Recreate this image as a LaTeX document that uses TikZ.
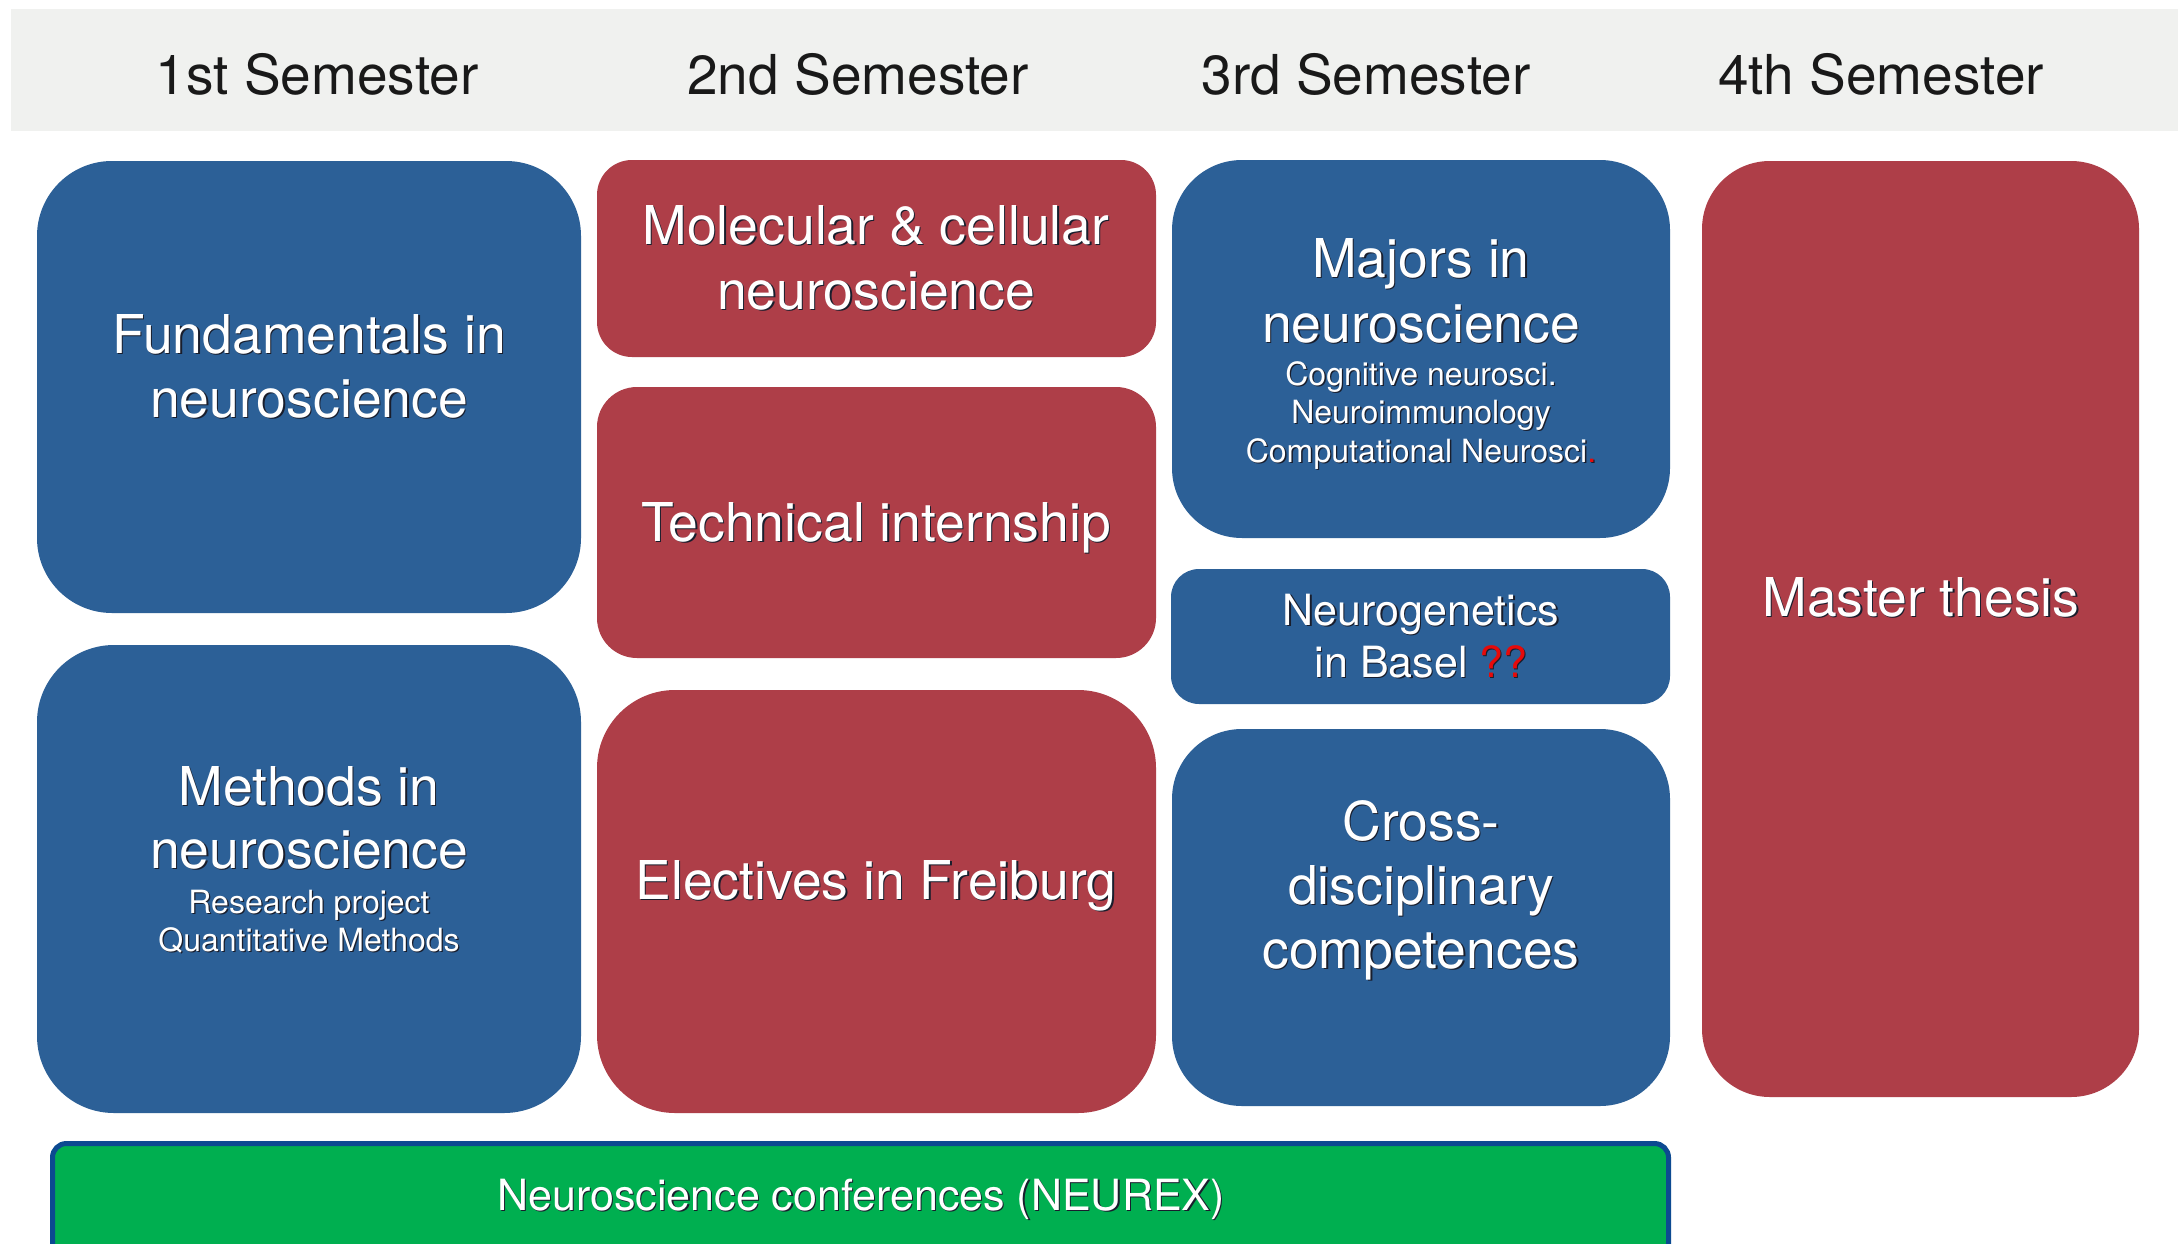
\documentclass[tikz,border=0pt]{standalone}
\usepackage{fontspec}
\setmainfont{TeX Gyre Heros}
\definecolor{bxblue}{RGB}{44,96,151}
\definecolor{bxred}{RGB}{174,62,72}
\definecolor{bxgreen}{RGB}{0,175,80}
\definecolor{bdblue}{RGB}{12,74,145}
\definecolor{hdrgray}{RGB}{240,241,239}
\definecolor{shcol}{RGB}{25,30,45}
\definecolor{qred}{RGB}{230,10,10}
\definecolor{hdrtext}{RGB}{25,25,25}
\newcommand\sh[1]{\leavevmode\rlap{\kern1.3pt\raisebox{-1.3pt}{\color{shcol}#1}}#1}
\tikzset{
  blk/.style={inner sep=0pt, outer sep=0pt, anchor=north west},
  bluebox/.style={blk, fill=bxblue},
  redbox/.style={blk, fill=bxred},
  txt/.style={anchor=base, inner sep=0pt, text=white},
  bigtxt/.style={txt, font=\fontsize{53.5}{64}\selectfont},
  medtxt/.style={txt, font=\fontsize{43}{52}\selectfont},
  smalltxt/.style={txt, font=\fontsize{32}{39}\selectfont},
  greentxt/.style={txt, font=\fontsize{43}{50}\selectfont},
  hdrlabel/.style={anchor=base, inner sep=0pt, text=hdrtext, font=\fontsize{55}{64}\selectfont},
}
\begin{document}
\begin{tikzpicture}[x=1pt,y=-1pt]
\useasboundingbox (0,0) rectangle (2178,1244);
\fill[white] (0,0) rectangle (2178,1244);
% header band
\node[blk, fill=hdrgray, minimum width=2167pt, minimum height=122pt] (band) at (11,9) {};
\node[hdrlabel] (h1) at (317,95) {1st Semester};
\node[hdrlabel] (h2) at (858,95) {2nd Semester};
\node[hdrlabel] (h3) at (1366,95) {3rd Semester};
\node[hdrlabel] (h4) at (1881,95) {4th Semester};
% boxes
\node[bluebox, minimum width=544pt, minimum height=452pt, rounded corners=75pt] (fund) at (37,161) {};
\node[bluebox, minimum width=544pt, minimum height=468pt, rounded corners=77pt] (meth) at (37,645) {};
\node[redbox, minimum width=559pt, minimum height=197pt, rounded corners=35pt] (molec) at (597,160) {};
\node[redbox, minimum width=559pt, minimum height=271pt, rounded corners=40pt] (tech) at (597,387) {};
\node[redbox, minimum width=559pt, minimum height=423pt, rounded corners=78pt] (elec) at (597,690) {};
\node[bluebox, minimum width=498pt, minimum height=378pt, rounded corners=70pt] (major) at (1172,160) {};
\node[bluebox, minimum width=499pt, minimum height=135pt, rounded corners=28pt] (neurog) at (1171,569) {};
\node[bluebox, minimum width=498pt, minimum height=377pt, rounded corners=70pt] (cross) at (1172,729) {};
\node[redbox, minimum width=437pt, minimum height=936pt, rounded corners=68pt] (master) at (1702,161) {};
\node[blk, fill=bxgreen, draw=bdblue, line width=5pt, minimum width=1616pt, minimum height=150pt, rounded corners=14pt] (conf) at (52.5,1143.5) {};
% texts
\node[bigtxt] (fundA) at (309,353) {\sh{Fundamentals in}};
\node[bigtxt] (fundB) at (309,417) {\sh{neuroscience}};
\node[bigtxt] (methA) at (309,805) {\sh{Methods in}};
\node[bigtxt] (methB) at (309,868) {\sh{neuroscience}};
\node[smalltxt] (methC) at (309,913) {\sh{Research project}};
\node[smalltxt] (methD) at (309,951) {\sh{Quantitative Methods}};
\node[bigtxt] (molecA) at (876,244) {\sh{Molecular \& cellular}};
\node[bigtxt] (molecB) at (876,309) {\sh{neuroscience}};
\node[bigtxt] (techA) at (876,541) {\sh{Technical internship}};
\node[bigtxt] (elecA) at (876,899) {\sh{Electives in Freiburg}};
\node[bigtxt] (majorA) at (1421,277) {\sh{Majors in}};
\node[bigtxt] (majorB) at (1421,342) {\sh{neuroscience}};
\node[smalltxt] (majorC) at (1421,385) {\sh{Cognitive neurosci.}};
\node[smalltxt] (majorD) at (1421,423) {\sh{Neuroimmunology}};
\node[smalltxt] (majorE) at (1421,462) {\leavevmode\rlap{\kern1.3pt\raisebox{-1.3pt}{\color{shcol}Computational Neurosci.}}Computational Neurosci\textcolor{qred}{.}};
\node[medtxt] (neurogA) at (1421,625) {\sh{Neurogenetics}};
\node[medtxt] (neurogB) at (1421,677) {\leavevmode\rlap{\kern1.3pt\raisebox{-1.3pt}{\color{shcol}in Basel ??}}in Basel \textcolor{qred}{??}};
\node[bigtxt] (crossA) at (1421,840) {\sh{Cross-}};
\node[bigtxt] (crossB) at (1421,904) {\sh{disciplinary}};
\node[bigtxt] (crossC) at (1421,968) {\sh{competences}};
\node[bigtxt] (masterA) at (1921,616) {\sh{Master thesis}};
\node[greentxt] (confA) at (861,1210) {\sh{Neuroscience conferences (NEUREX)}};
\end{tikzpicture}
\end{document}
